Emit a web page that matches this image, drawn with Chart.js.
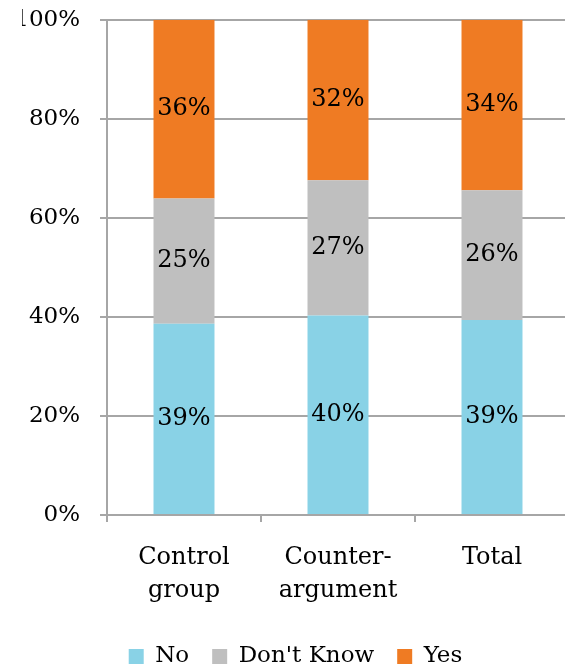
<!DOCTYPE html>
<html>
<head>
<meta charset="utf-8">
<script src="https://cdn.jsdelivr.net/npm/chart.js@4/dist/chart.umd.min.js"></script>
<style>
  html, body { margin: 0; padding: 0; background: #fff; overflow: hidden; }
  #wrap { position: relative; top: -14px; width: 569px; height: 692px; }
</style>
</head>
<body>
<div id="wrap"><canvas id="chart"></canvas></div>
<script>
// Categories and shares (percent of respondents in each group)
const categories = [["Control", "group"], ["Counter-", "argument"], "Total"];
const seriesNames = ["No", "Don't Know", "Yes"];
const noValues = [38.6, 40.3, 39.4];
const dontKnowValues = [25.3, 27.3, 26.2];
const yesValues = [36.1, 32.4, 34.4];
const yTickValues = [0, 20, 40, 60, 80, 100];

const seriesColors = ["#89d2e6", "#bfbfbf", "#ef7b23"];
const axisGray = "#a6a6a6";
const fontFamily = "'DejaVu Serif', serif";

// Writes the rounded share in the middle of every bar segment
const segmentLabels = {
  id: "segmentLabels",
  afterDatasetsDraw(chart) {
    const ctx = chart.ctx;
    ctx.save();
    ctx.font = "24px " + fontFamily;
    ctx.fillStyle = "#000";
    ctx.textAlign = "center";
    ctx.textBaseline = "middle";
    chart.data.datasets.forEach((ds, i) => {
      const meta = chart.getDatasetMeta(i);
      meta.data.forEach((bar, j) => {
        const v = ds.data[j];
        ctx.fillText(Math.round(v) + "%", bar.x, (bar.y + bar.base) / 2);
      });
    });
    ctx.restore();
  }
};

new Chart(document.getElementById("chart"), {
  type: "bar",
  data: {
    labels: categories,
    datasets: [
      { label: seriesNames[0], data: noValues, backgroundColor: seriesColors[0] },
      { label: seriesNames[1], data: dontKnowValues, backgroundColor: seriesColors[1] },
      { label: seriesNames[2], data: yesValues, backgroundColor: seriesColors[2] }
    ]
  },
  options: {
    responsive: true,
    maintainAspectRatio: false,
    animation: false,
    devicePixelRatio: 1,
    datasets: { bar: { barPercentage: 0.396, categoryPercentage: 1, borderWidth: 0 } },
    layout: { padding: { top: 0, left: 22, right: 0, bottom: 0 } },
    plugins: {
      tooltip: { enabled: false },
      legend: {
        position: "bottom",
        labels: {
          boxWidth: 15,
          boxHeight: 15,
          padding: 23,
          color: "#000",
          font: { family: fontFamily, size: 23 }
        }
      }
    },
    scales: {
      x: {
        stacked: true,
        afterFit(scale) { scale.height = 107; },
        grid: {
          offset: true,
          drawOnChartArea: false,
          drawTicks: true,
          tickLength: 7,
          color: axisGray,
          lineWidth: 2
        },
        border: { color: axisGray, width: 2 },
        ticks: {
          color: "#000",
          padding: 19,
          maxRotation: 0,
          autoSkip: false,
          font: { family: fontFamily, size: 24, lineHeight: 1.38 }
        }
      },
      y: {
        stacked: true,
        min: 0,
        max: 100,
        afterFit(scale) { scale.width = 85; },
        afterBuildTicks(scale) { scale.ticks = yTickValues.map(v => ({ value: v })); },
        grid: {
          drawOnChartArea: true,
          drawTicks: true,
          tickLength: 7,
          color: axisGray,
          lineWidth: 2
        },
        border: { color: axisGray, width: 2 },
        ticks: {
          color: "#000",
          padding: 20,
          callback: v => v + "%",
          font: { family: fontFamily, size: 23 }
        }
      }
    }
  },
  plugins: [segmentLabels]
});
</script>
</body>
</html>
